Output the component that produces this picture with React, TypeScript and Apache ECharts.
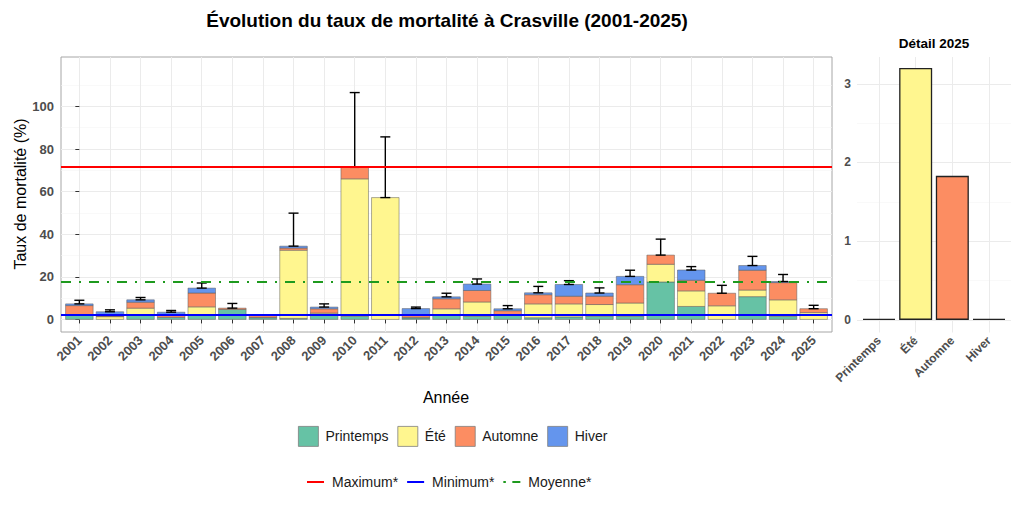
import React, { useEffect, useRef } from "react";
import * as echarts from "echarts";

// ---- Data ----
const YEARS = [
  "2001", "2002", "2003", "2004", "2005", "2006", "2007", "2008", "2009", "2010",
  "2011", "2012", "2013", "2014", "2015", "2016", "2017", "2018", "2019", "2020",
  "2021", "2022", "2023", "2024", "2025",
];
const PRINTEMPS = [2.0, 0, 2.0, 1.0, 2.0, 4.7, 0.8, 0.5, 2.5, 1.5, 0, 0.7, 1.9, 1.5, 2.0, 0.8, 1.2, 1.5, 1.5, 17.6, 6.1, 0, 10.7, 1.5, 0];
const ETE = [0, 1.3, 3.3, 0, 3.9, 0, 0.2, 32.0, 0.5, 64.5, 57.2, 0.3, 3.1, 6.7, 0.3, 6.5, 6.1, 5.5, 6.2, 8.3, 7.3, 6.4, 3.1, 7.7, 3.2];
const AUTOMNE = [4.5, 0.3, 2.8, 1.0, 6.5, 0.6, 1.3, 1.0, 2.0, 5.4, 0, 1.0, 4.7, 5.4, 1.8, 4.3, 3.6, 3.9, 8.6, 4.3, 5.0, 5.9, 9.3, 8.1, 1.83];
const HIVER = [0.8, 2.0, 1.1, 1.4, 2.3, 0, 0, 0.9, 0.8, 0, 0, 3.1, 0.9, 3.0, 0.9, 0.9, 5.5, 1.5, 3.9, 0, 4.8, 0, 2.2, 0.5, 0];
const ERREUR: (number | null)[] = [1.7, 0.9, 1.1, 0.8, 2.4, 2.2, null, 15.5, 1.5, 35.1, 28.5, 0.7, 1.7, 2.4, 1.5, 3.0, 1.8, 2.4, 2.9, 7.5, 1.6, 3.7, 4.3, 3.3, 1.6];

const SAISONS = ["Printemps", "Été", "Automne", "Hiver"];
const COULEURS = ["#66C2A5", "#FFF68F", "#FC8D62", "#6495ED"];
const DETAIL_2025 = [0, 3.2, 1.83, 0];

const MAXIMUM = 71.5;
const MINIMUM = 2.3;
const MOYENNE = 17.8;

const Y_TICKS = [0, 20, 40, 60, 80, 100];
const Y_MINOR = [10, 30, 50, 70, 90, 110];
const DETAIL_Y_TICKS = [0, 1, 2, 3];
const DETAIL_Y_MINOR = [0.5, 1.5, 2.5];

const FONT = "Liberation Sans";

export default function App() {
  const ref = useRef<HTMLDivElement>(null);

  useEffect(() => {
    document.body.style.margin = "0";
    if (!ref.current) return;
    const chart = echarts.init(ref.current, undefined, { renderer: "svg" });

    const idx = YEARS.map((_, i) => i);
    const seasonData = [PRINTEMPS, ETE, AUTOMNE, HIVER];
    const totals = idx.map((i) => seasonData.reduce((s, arr) => s + arr[i], 0));
    const errData = idx
      .filter((i) => ERREUR[i] !== null)
      .map((i) => [i, totals[i], totals[i] + (ERREUR[i] as number)]);

    // stacked segments: [index, bottom, top]
    const stacked = seasonData.map((arr, k) =>
      idx
        .filter((i) => arr[i] > 0)
        .map((i) => {
          let base = 0;
          for (let j = 0; j < k; j++) base += seasonData[j][i];
          return [i, base, base + arr[i]];
        })
    );

    const major = { color: "#EBEBEB", width: 1, type: "solid" };
    const minor = { color: "#F5F5F5", width: 0.6, type: "solid" };

    const gridMarkLine = (data: any[]) => ({
      silent: true,
      symbol: ["none", "none"],
      label: { show: false },
      z: 0,
      animation: false,
      emphasis: { disabled: true },
      data,
    });

    const tickLabel = {
      fontFamily: FONT,
      fontWeight: "bold",
      color: "#4D4D4D",
    };

    const refLine = (name: string, color: string, value: number, type: any, width: number) => ({
      type: "custom",
      name,
      xAxisIndex: 0,
      yAxisIndex: 0,
      data: [],
      itemStyle: { color },
      renderItem: () => ({ type: "group", children: [] }),
      markLine: {
        silent: true,
        symbol: ["none", "none"],
        label: { show: false },
        z: 5,
        lineStyle: { color, width, type },
        data: [{ yAxis: value }],
      },
    });

    const option: any = {
      animation: false,
      textStyle: { fontFamily: FONT },
      grid: [
        {
          left: 61,
          top: 57,
          width: 771,
          height: 275,
          show: true,
          borderColor: "#A6A6A6",
          borderWidth: 1,
          backgroundColor: "transparent",
        },
        { left: 857, top: 57, width: 154, height: 275.5, show: false },
      ],
      xAxis: [
        {
          type: "value",
          gridIndex: 0,
          min: -0.6,
          max: 24.6,
          axisLine: { show: false },
          splitLine: { show: false },
          axisTick: { show: true, customValues: idx, length: 4, lineStyle: { color: "#333" } },
          axisLabel: {
            ...tickLabel,
            customValues: idx,
            fontSize: 13,
            rotate: 45,
            margin: 6,
            formatter: (v: number) => YEARS[Math.round(v)] ?? "",
          },
        },
        {
          type: "value",
          gridIndex: 1,
          min: -0.6,
          max: 3.6,
          axisLine: { show: false },
          splitLine: { show: false },
          axisTick: { show: false },
          axisLabel: {
            ...tickLabel,
            customValues: [0, 1, 2, 3],
            fontSize: 12,
            rotate: 45,
            margin: 6,
            formatter: (v: number) => SAISONS[Math.round(v)] ?? "",
          },
        },
      ],
      yAxis: [
        {
          type: "value",
          gridIndex: 0,
          min: -5.9,
          max: 123.2,
          axisLine: { show: false },
          splitLine: { show: false },
          axisTick: { show: true, customValues: Y_TICKS, length: 4, lineStyle: { color: "#333" } },
          axisLabel: { ...tickLabel, customValues: Y_TICKS, fontSize: 13, margin: 7 },
        },
        {
          type: "value",
          gridIndex: 1,
          min: -0.16,
          max: 3.34,
          axisLine: { show: false },
          splitLine: { show: false },
          axisTick: { show: false },
          axisLabel: { ...tickLabel, customValues: DETAIL_Y_TICKS, fontSize: 12, margin: 6 },
        },
      ],
      legend: [
        {
          data: SAISONS,
          left: 298,
          top: 426,
          padding: 0,
          icon: "rect",
          itemWidth: 20,
          itemHeight: 20,
          itemGap: 9,
          selectedMode: false,
          itemStyle: { borderColor: "#7F7F7F", borderWidth: 0.8 },
          textStyle: { fontFamily: FONT, fontSize: 14, color: "#1A1A1A", padding: [0, 0, 0, 2] },
        },
        {
          data: [
            { name: "Maximum*", icon: "path://M0,0H17V2H0Z" },
            { name: "Minimum*", icon: "path://M0,0H17V2H0Z" },
            { name: "Moyenne*", icon: "path://M0,0H2.5V2H0Z M9,0H17V2H9Z" },
          ],
          left: 307,
          top: 475,
          padding: 0,
          itemWidth: 17,
          itemHeight: 2,
          itemGap: 9,
          selectedMode: false,
          textStyle: { fontFamily: FONT, fontSize: 14, color: "#1A1A1A", padding: [0, 0, 0, 3] },
        },
      ],
      graphic: [
        {
          type: "text",
          x: 447,
          y: 20,
          style: {
            text: "Évolution du taux de mortalité à Crasville (2001-2025)",
            fontFamily: FONT,
            fontSize: 19,
            fontWeight: "bold",
            fill: "#000",
            textAlign: "center",
            textVerticalAlign: "middle",
          },
        },
        {
          type: "text",
          x: 934,
          y: 43,
          style: {
            text: "Détail 2025",
            fontFamily: FONT,
            fontSize: 13.5,
            fontWeight: "bold",
            fill: "#000",
            textAlign: "center",
            textVerticalAlign: "middle",
          },
        },
        {
          type: "text",
          x: 446,
          y: 397,
          style: {
            text: "Année",
            fontFamily: FONT,
            fontSize: 16,
            fill: "#000",
            textAlign: "center",
            textVerticalAlign: "middle",
          },
        },
        {
          type: "text",
          x: 20,
          y: 194,
          rotation: Math.PI / 2,
          style: {
            text: "Taux de mortalité (%)",
            fontFamily: FONT,
            fontSize: 16,
            fill: "#000",
            textAlign: "center",
            textVerticalAlign: "middle",
          },
        },
      ],
      series: [
        {
          type: "custom",
          name: "grilleMain",
          xAxisIndex: 0,
          yAxisIndex: 0,
          data: [],
          z: 0,
          silent: true,
          renderItem: () => ({ type: "group", children: [] }),
          markLine: gridMarkLine([
            ...Y_MINOR.map((v) => ({ yAxis: v, lineStyle: minor })),
            ...Y_TICKS.map((v) => ({ yAxis: v, lineStyle: major })),
            ...idx.map((i) => ({ xAxis: i, lineStyle: major })),
          ]),
        },
        ...stacked.map((segs, k) => ({
          type: "custom",
          name: SAISONS[k],
          xAxisIndex: 0,
          yAxisIndex: 0,
          z: 2,
          silent: true,
          encode: { x: 0, y: [1, 2] },
          itemStyle: { color: COULEURS[k], borderColor: "#5A5A5A", borderWidth: 0.5 },
          data: segs,
          renderItem: (_params: any, api: any) => {
            const x = api.value(0);
            const p0 = api.coord([x, api.value(1)]);
            const p1 = api.coord([x, api.value(2)]);
            const w = api.size([1, 0])[0] * 0.9;
            return {
              type: "rect",
              shape: { x: p0[0] - w / 2, y: p1[1], width: w, height: p0[1] - p1[1] },
              style: { fill: COULEURS[k], stroke: "#5A5A5A", lineWidth: 0.5 },
            };
          },
        })),
        {
          type: "custom",
          name: "erreur",
          xAxisIndex: 0,
          yAxisIndex: 0,
          z: 3,
          silent: true,
          encode: { x: 0, y: [1, 2] },
          data: errData,
          renderItem: (_params: any, api: any) => {
            const x = api.value(0);
            const lo = api.coord([x, api.value(1)]);
            const hi = api.coord([x, api.value(2)]);
            const cap = 5;
            const st = { stroke: "#000", lineWidth: 1.4 };
            return {
              type: "group",
              children: [
                { type: "line", shape: { x1: lo[0], y1: lo[1], x2: hi[0], y2: hi[1] }, style: st },
                { type: "line", shape: { x1: hi[0] - cap, y1: hi[1], x2: hi[0] + cap, y2: hi[1] }, style: st },
                { type: "line", shape: { x1: lo[0] - cap, y1: lo[1], x2: lo[0] + cap, y2: lo[1] }, style: st },
              ],
            };
          },
        },
        refLine("Maximum*", "#FF0000", MAXIMUM, "solid", 1.8),
        refLine("Minimum*", "#0000FF", MINIMUM, "solid", 1.8),
        refLine("Moyenne*", "#1E9A1E", MOYENNE, [10, 8, 2, 8], 2),
        {
          type: "custom",
          name: "grilleDetail",
          xAxisIndex: 1,
          yAxisIndex: 1,
          data: [],
          z: 0,
          silent: true,
          renderItem: () => ({ type: "group", children: [] }),
          markLine: gridMarkLine([
            ...DETAIL_Y_MINOR.map((v) => ({ yAxis: v, lineStyle: minor })),
            ...DETAIL_Y_TICKS.map((v) => ({ yAxis: v, lineStyle: major })),
            ...[0, 1, 2, 3].map((i) => ({ xAxis: i, lineStyle: major })),
          ]),
        },
        {
          type: "bar",
          name: "Détail 2025",
          xAxisIndex: 1,
          yAxisIndex: 1,
          barWidth: 33,
          barMinHeight: 1,
          z: 2,
          silent: true,
          data: DETAIL_2025.map((v, i) => ({
            value: [i, v],
            itemStyle: { color: COULEURS[i], borderColor: "#222", borderWidth: 1.3 },
          })),
        },
      ],
    };

    chart.setOption(option);
    return () => chart.dispose();
  }, []);

  return <div ref={ref} style={{ width: 1024, height: 512 }} />;
}
